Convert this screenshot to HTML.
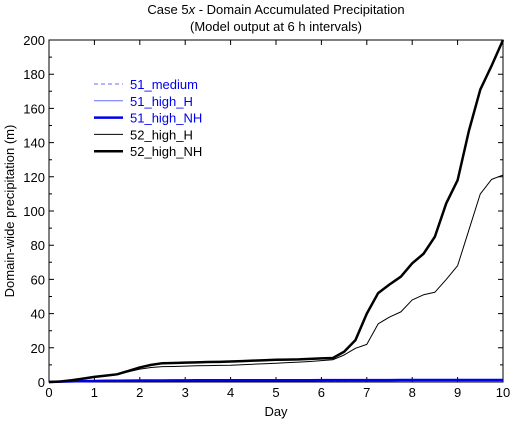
<!DOCTYPE html>
<html><head><meta charset="utf-8"><style>
body{margin:0;background:#fff}
svg{font-family:"Liberation Sans",sans-serif}
</style></head><body>
<svg id="c" width="514" height="422">
<text x="276" y="14" font-size="13" text-anchor="middle">Case 5<tspan font-style="italic">x</tspan> - Domain Accumulated Precipitation</text>
<text x="276" y="31" font-size="13" text-anchor="middle">(Model output at 6 h intervals)</text>
<g id="plot"></g>
<text x="276" y="416" font-size="13" text-anchor="middle">Day</text>
<text x="14" y="211" font-size="13" text-anchor="middle" transform="rotate(-90 14 211)">Domain-wide precipitation (m)</text>
</svg>
<script>
const days=[0,0.25,0.5,0.75,1,1.25,1.5,1.75,2,2.25,2.5,2.75,3,3.25,3.5,3.75,4,4.25,4.5,4.75,5,5.25,5.5,5.75,6,6.25,6.5,6.75,7,7.25,7.5,7.75,8,8.25,8.5,8.75,9,9.25,9.5,9.75,10];
const s52NH=[0,0.3,1,2,3,3.7,4.5,6.5,8.5,10,11,11.1,11.3,11.5,11.7,11.8,12,12.2,12.5,12.7,13,13.1,13.2,13.5,13.8,14,17.7,24.5,40,52,57,61.6,69.4,75,85,104.5,118,147,171,185,200];
const s52H=[0,0.3,1,2,2.8,3.5,4.3,6,7.5,8.5,9,9.1,9.3,9.5,9.6,9.7,9.8,10.1,10.4,10.7,11,11.3,11.6,12,12.5,13,15.8,19.7,22,34,38,41,48,51,52.5,60,68,89,110,118.5,121];
const s51NH=[0,0.2,0.4,0.5,0.6,0.7,0.75,0.8,0.85,0.9,0.9,0.95,0.95,1,1,1,1,1,1,1,1.05,1.05,1.05,1.05,1.1,1.1,1.1,1.1,1.1,1.1,1.1,1.15,1.15,1.15,1.15,1.2,1.2,1.2,1.2,1.2,1.2];
const s51H=s51NH.map(v=>v*0.95);
const s51M=[0,0.1,0.2,0.3,0.35,0.4,0.45,0.5,0.5,0.55,0.55,0.6,0.6,0.6,0.6,0.65,0.65,0.65,0.65,0.7,0.7,0.7,0.7,0.7,0.75,0.75,0.75,0.8,0.8,0.8,0.85,0.85,0.9,0.9,0.95,1,1.1,1.2,1.3,1.4,1.5];
const xTicks=[0,1,2,3,4,5,6,7,8,9,10];
const yTicks=[0,20,40,60,80,100,120,140,160,180,200];
const X0=49,X1=503,Y0=382,Y1=40;
const sx=d=>X0+(X1-X0)*d/10, sy=v=>Y0-(Y0-Y1)*v/200;
const ns="http://www.w3.org/2000/svg", g=document.getElementById('plot');
function mk(t,a){const e=document.createElementNS(ns,t);for(const k in a)e.setAttribute(k,a[k]);g.appendChild(e);return e;}
const fr=mk('rect',{x:X0,y:Y1,width:X1-X0,height:Y0-Y1,fill:'none',stroke:'#000','stroke-width':1});


xTicks.forEach(d=>{
 const x=sx(d);
 const t=mk('path',{d:`M${x} ${Y0}v-5M${x} ${Y1}v5`,stroke:'#000'});
 
 
 const l=mk('text',{x:x,y:Y0+15,'font-size':13,'text-anchor':'middle'});l.textContent=d;
 
 
});
for(let v=0;v<=200;v+=10){
 const y=sy(v),len=v%20?3:5;
 const t=mk('path',{d:`M${X0} ${y}h${len}M${X1} ${y}h-${len}`,stroke:'#000'});
 
 
}
yTicks.forEach(v=>{
 const l=mk('text',{x:X0-4,y:sy(v)+5,'font-size':13,'text-anchor':'end'});l.textContent=v;
 
 
});
const series=[
 {n:'51_medium',d:s51M,c:'#6a6aff',w:1,da:'4,3',tc:'#0000ee'},
 {n:'51_high_H',d:s51H,c:'#6a6aff',w:1,da:'',tc:'#0000ee'},
 {n:'51_high_NH',d:s51NH,c:'#0000ee',w:2.5,da:'',tc:'#0000ee'},
 {n:'52_high_H',d:s52H,c:'#000',w:1,da:'',tc:'#000'},
 {n:'52_high_NH',d:s52NH,c:'#000',w:2.5,da:'',tc:'#000'}];
series.forEach((s,i)=>{
 const p=mk('polyline',{points:days.map((d,j)=>sx(d)+','+sy(s.d[j])).join(' '),fill:'none',stroke:s.c,'stroke-width':s.w,'stroke-dasharray':s.da,'stroke-linejoin':'round'});
 
 
 const y=84+i*16.8;
 const ll=mk('line',{x1:94,x2:123,y1:y,y2:y,stroke:s.c,'stroke-width':s.w,'stroke-dasharray':s.da});
 
 
 const lt=mk('text',{x:130,y:y+5,'font-size':13,fill:s.tc});lt.textContent=s.n;
 
 
});
</script>
</body></html>
